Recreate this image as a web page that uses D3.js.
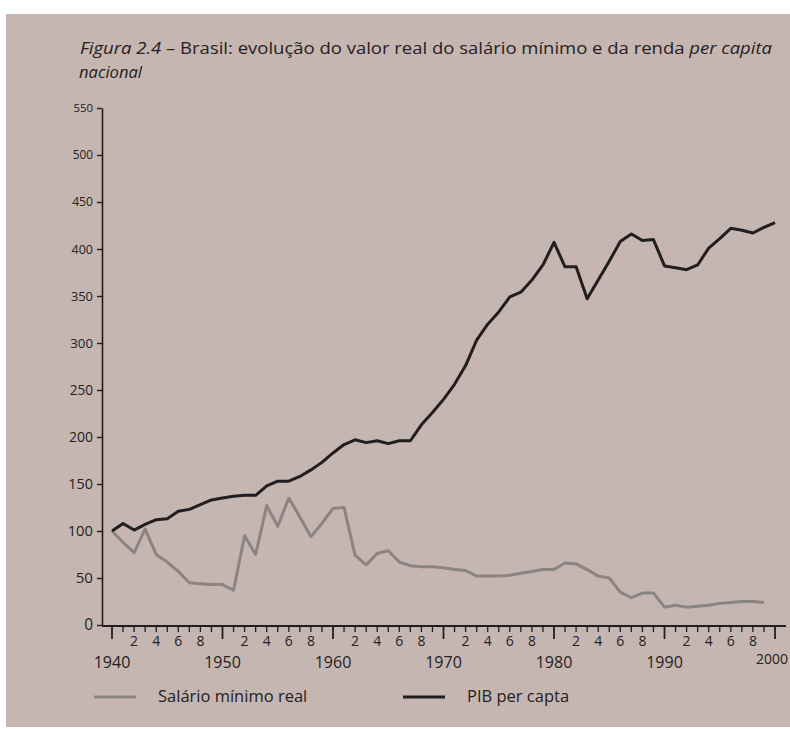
<!DOCTYPE html>
<html>
<head>
<meta charset="utf-8">
<script src="https://cdn.jsdelivr.net/npm/d3@7"></script>
<style>
  body { margin: 0; background: #fff; }
  svg { display: block; }
  text { font-family: "Open Sans", "Noto Sans", sans-serif; fill: #252121; }
</style>
</head>
<body>
<svg id="chart"></svg>
<script>
const WIDTH = 790,
  HEIGHT = 729,
  PAPER = "#c5b6b2",
  BLACK_LINE = "#221e1f",
  GRAY_LINE = "#8b8483";

// data (index, 1940 = 100)
const years = d3.range(1940, 2001);
const pibPerCapita = [
  100, 108, 101, 107, 112, 113, 121, 123, 128, 133,
  135, 137, 138, 138, 148, 153, 153, 158, 165, 173,
  183, 192, 197, 194, 196, 193, 196, 196, 213, 226,
  240, 256, 276, 303, 320, 333, 349, 354, 367, 383,
  407, 381, 381, 347, 367, 387, 408, 416, 409, 410,
  382, 380, 378, 383, 401, 411, 422, 420, 417, 423,
  428
];
const salarioMinimo = [
  100, 88, 77, 102, 75, 67, 57, 45, 44, 43,
  43, 37, 95, 75, 127, 105, 135, 115, 94, 108,
  124, 125, 74, 64, 76, 79, 67, 63, 62, 62,
  61, 59, 58, 52, 52, 52, 53, 55, 57, 59,
  59, 66, 65, 59, 52, 50, 35, 29, 34, 34,
  19, 21, 19, 20, 21, 23, 24, 25, 25, 24
];
const yTicks = d3.range(0, 551, 50);
const decadeLabels = [1940, 1950, 1960, 1970, 1980, 1990, 2000];
const legendItems = [
  { label: "Salário mínimo real", color: GRAY_LINE },
  { label: "PIB per capta", color: BLACK_LINE }
];

const svg = d3.select("#chart")
  .attr("width", WIDTH)
  .attr("height", HEIGHT);

// photographed page
svg.append("rect")
  .attr("x", 6).attr("y", 14)
  .attr("width", WIDTH - 6).attr("height", HEIGHT - 16)
  .attr("fill", PAPER);

const x = d3.scaleLinear().domain([1940, 2000]).range([112, 775]),
  y = d3.scaleLinear().domain([0, 550]).range([625, 108]);

const AXIS_X = 102;

// title
const title = svg.append("text")
  .attr("x", 80).attr("y", 54)
  .attr("font-size", 17);
title.append("tspan").attr("font-style", "italic").text("Figura 2.4");
title.append("tspan").text(" – Brasil: evolução do valor real do salário mínimo e da renda ");
title.append("tspan").attr("font-style", "italic").text("per capita");
title.attr("textLength", 692).attr("lengthAdjust", "spacingAndGlyphs");

svg.append("text")
  .attr("x", 79).attr("y", 78)
  .attr("font-size", 17)
  .attr("font-style", "italic")
  .attr("textLength", 63).attr("lengthAdjust", "spacingAndGlyphs")
  .text("nacional");

// y axis (labels shrink towards the top, as in the photo)
const yAxis = svg.append("g")
  .attr("transform", `translate(${AXIS_X},0)`)
  .call(d3.axisLeft(y).tickValues(yTicks).tickSize(5).tickPadding(4).tickSizeOuter(0));
yAxis.select(".domain").attr("stroke", BLACK_LINE).attr("stroke-width", 1.6);
yAxis.selectAll(".tick line").attr("stroke", BLACK_LINE).attr("stroke-width", 1.4);
yAxis.selectAll(".tick text")
  .attr("font-size", d => 15.5 - d / 135)
  .attr("font-family", "Open Sans, sans-serif")
  .attr("fill", "#252121");

// x axis: line, yearly minor ticks, long decade ticks
const X_AXIS_Y = 626;
const xg = svg.append("g");
xg.append("line")
  .attr("x1", AXIS_X).attr("x2", 786)
  .attr("y1", X_AXIS_Y).attr("y2", X_AXIS_Y)
  .attr("stroke", BLACK_LINE).attr("stroke-width", 2);

xg.selectAll(".minor")
  .data(years)
  .join("line")
  .attr("x1", d => x(d)).attr("x2", d => x(d))
  .attr("y1", X_AXIS_Y)
  .attr("y2", d => d % 10 === 0 ? X_AXIS_Y + 13 : X_AXIS_Y + 6)
  .attr("stroke", BLACK_LINE)
  .attr("stroke-width", d => d % 10 === 0 ? 1.8 : 1.3);

xg.selectAll(".even")
  .data(years.filter(d => d % 2 === 0 && d % 10 !== 0))
  .join("text")
  .attr("x", d => x(d))
  .attr("y", X_AXIS_Y + 20)
  .attr("text-anchor", "middle")
  .attr("font-size", 14)
  .text(d => d % 10);

xg.selectAll(".decade")
  .data(decadeLabels)
  .join("text")
  .attr("x", d => d === 2000 ? x(d) - 3 : x(d))
  .attr("y", d => d === 2000 ? X_AXIS_Y + 38 : X_AXIS_Y + 42)
  .attr("text-anchor", "middle")
  .attr("font-size", d => d === 2000 ? 14 : 16)
  .text(d => d);

// series
const line = d3.line()
  .x((d, i) => x(1940 + i))
  .y(d => y(d))
  .curve(d3.curveLinear);

svg.append("path")
  .datum(salarioMinimo)
  .attr("d", line)
  .attr("fill", "none")
  .attr("stroke", GRAY_LINE)
  .attr("stroke-width", 3)
  .attr("stroke-linejoin", "round");

svg.append("path")
  .datum(pibPerCapita)
  .attr("d", line)
  .attr("fill", "none")
  .attr("stroke", BLACK_LINE)
  .attr("stroke-width", 3)
  .attr("stroke-linejoin", "round");

// legend
const legend = svg.append("g")
  .selectAll("g")
  .data(legendItems)
  .join("g")
  .attr("transform", (d, i) => `translate(${i === 0 ? 94 : 403},697)`);

legend.append("line")
  .attr("x1", 0).attr("x2", 42)
  .attr("stroke", d => d.color)
  .attr("stroke-width", 3);

legend.append("text")
  .attr("x", 64).attr("y", 5)
  .attr("font-size", 16.5)
  .text(d => d.label);
</script>
</body>
</html>
